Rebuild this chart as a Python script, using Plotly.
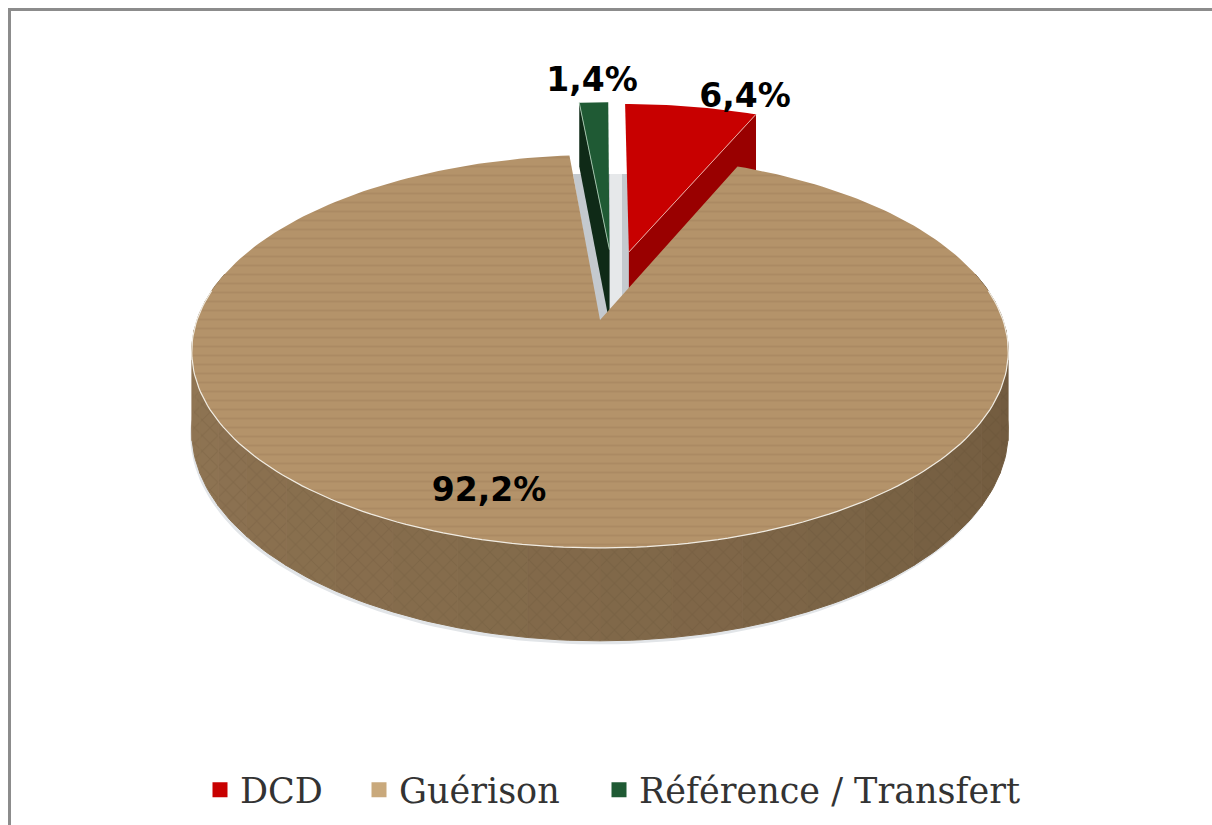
import numpy as np
import plotly.graph_objects as go

categories = ["DCD", "Guérison", "Référence / Transfert"]
values = [6.4, 92.2, 1.4]
labels = ["6,4%", "92,2%", "1,4%"]
top_colors = ["#c80000", "#b4936a", "#1f5a34"]
side_colors = ["#990000", "#8a6f4e", "#0f2a17"]
legend_colors = ["#c80000", "#c9a97c", "#1f5a34"]

CX, CY, RX, RY, K, H = 600, 320, 403, 191.5, 0.16, 78
OFFSETS = [(0.076, -0.3765), (0, 0), (0.025, -0.39)]
LABEL_XY = [(745, 99), (489, 493), (592, 83)]
LEGEND_SWATCH_X = [220, 379, 619]

def project(u, v, lift=0.0):
    d = 1 - K * v
    return CX + RX * u / d, CY + (RY * v + lift) / d

def ground(theta, off, r=1.0):
    return off[0] + r * np.sin(theta), off[1] - r * np.cos(theta)

edges = np.cumsum([0] + values) / sum(values) * 2 * np.pi
fig = go.Figure()

def poly(x, y, fill, line=None, width=0, pattern=None):
    fig.add_trace(go.Scatter(
        x=list(x), y=list(y), mode="lines", fill="toself", fillcolor=fill,
        line=dict(color=line or fill, width=width), showlegend=False,
        hoverinfo="skip", fillpattern=pattern))

def line(x, y, color, width=1):
    fig.add_trace(go.Scatter(x=list(x), y=list(y), mode="lines",
                             line=dict(color=color, width=width),
                             showlegend=False, hoverinfo="skip"))

def rim(a, b, off, lift=0.0, n=60):
    t = np.linspace(a, b, n)
    return project(*ground(t, off), lift)

# light grey inner wall seen through the notch (the main pie covers the rest)
wall_y = 174
poly([573, 640, 640, 600, 573], [wall_y, wall_y, 330, 330, wall_y], "#c4c9ce")
poly([610, 622, 622, 610, 610], [wall_y, wall_y, 330, 330, wall_y], "#e6e8ea")

# exploded slices: cut faces behind the main pie
for i, edge in ((0, edges[1]), (2, edges[2])):
    off = OFFSETS[i]
    ax, ay = project(off[0], off[1])
    ax2, ay2 = project(off[0], off[1], H)
    rx1, ry1 = project(*ground(edge, off))
    rx2, ry2 = project(*ground(edge, off), H)
    poly([ax, rx1, rx2, ax2, ax], [ay, ry1, ry2, ay2, ay], side_colors[i])

# main pie: soft shadow, then side wall in shaded segments, then top
a1, a2 = edges[1], edges[2]
off = OFFSETS[1]
sx, sy = rim(np.pi / 2, 3 * np.pi / 2, off, H + 3, 120)
poly(list(sx - 1.5) + [sx[-1], sx[0]], list(sy) + [CY, CY], "#e2e5e8")

seg = np.linspace(np.pi * 0.42, np.pi * 1.58, 25)
dark = np.array([0x6a, 0x55, 0x3a])
light = np.array([0x93, 0x78, 0x56])
for j in range(len(seg) - 1):
    tx, ty = rim(seg[j], seg[j + 1], off, 0.0, 8)
    bx, by = rim(seg[j + 1], seg[j], off, H, 8)
    mix = (j / (len(seg) - 2)) ** 0.8
    c = dark + (light - dark) * mix
    col = "rgb(%d,%d,%d)" % tuple(c)
    poly(np.r_[tx, bx, tx[0]], np.r_[ty, by, ty[0]], col, col, 1,
         dict(shape="x", fgcolor="rgba(60,42,22,0.22)", size=11, solidity=0.18))

tx, ty = rim(a1, a2, off, 0.0, 240)
ax, ay = project(*off)
poly(np.r_[ax, tx, ax], np.r_[ay, ty, ay], top_colors[1], pattern=dict(
    shape="-", fgcolor="rgba(110,82,50,0.28)", size=9, solidity=0.2))
fx, fy = rim(np.pi * 0.45, np.pi * 1.55, off, 0.0, 160)
line(fx, fy, "#f1ece2", 1.2)

# exploded slices: top faces
for i in (0, 2):
    o = OFFSETS[i]
    tx, ty = rim(edges[i], edges[i + 1], o, 0.0, 30)
    ax, ay = project(*o)
    poly(np.r_[ax, tx, ax], np.r_[ay, ty, ay], top_colors[i])
    e = edges[1] if i == 0 else edges[2]
    ex, ey = project(*ground(e, o))
    line([ax, ex], [ay, ey], "#e9a8a0" if i == 0 else "#9fc0a8", 1)

# percentage labels
fig.add_trace(go.Scatter(
    x=[p[0] for p in LABEL_XY], y=[p[1] for p in LABEL_XY], text=labels,
    mode="text", textposition="middle center", showlegend=False, hoverinfo="skip",
    textfont=dict(family="DejaVu Sans", size=33, color="#000000", weight="bold")))

# one legend per entry, so each can sit at its own position
legend_layout = {}
for k, (name, col, sx0) in enumerate(zip(categories, legend_colors, LEGEND_SWATCH_X)):
    key = "legend" if k == 0 else "legend%d" % (k + 1)
    fig.add_trace(go.Scatter(x=[None], y=[None], mode="markers", name=name, legend=key,
                             showlegend=True,
                             marker=dict(symbol="square", size=15, color=col)))
    legend_layout[key] = dict(
        orientation="h", x=(sx0 - 20) / 1212, xanchor="left", y=0.0424, yanchor="middle",
        font=dict(family="DejaVu Serif", size=35, color="#333333"),
        bgcolor="rgba(0,0,0,0)", itemwidth=30)

fig.update_layout(
    width=1212, height=825, margin=dict(l=0, r=0, t=0, b=0),
    paper_bgcolor="#ffffff", plot_bgcolor="#ffffff",
    xaxis=dict(range=[0, 1212], visible=False, fixedrange=True),
    yaxis=dict(range=[825, 0], visible=False, fixedrange=True),
    shapes=[
        dict(type="line", xref="paper", yref="paper", x0=9.5 / 1212, x1=9.5 / 1212, y0=0, y1=1 - 9 / 825,
             line=dict(color="#8c8c8c", width=3)),
        dict(type="line", xref="paper", yref="paper", x0=8 / 1212, x1=1, y0=1 - 9.5 / 825, y1=1 - 9.5 / 825,
             line=dict(color="#8c8c8c", width=3)),
    ],
    **legend_layout,
)
fig.write_html("out.html", post_script="document.body.style.margin='0';",
               config={"displayModeBar": False})
